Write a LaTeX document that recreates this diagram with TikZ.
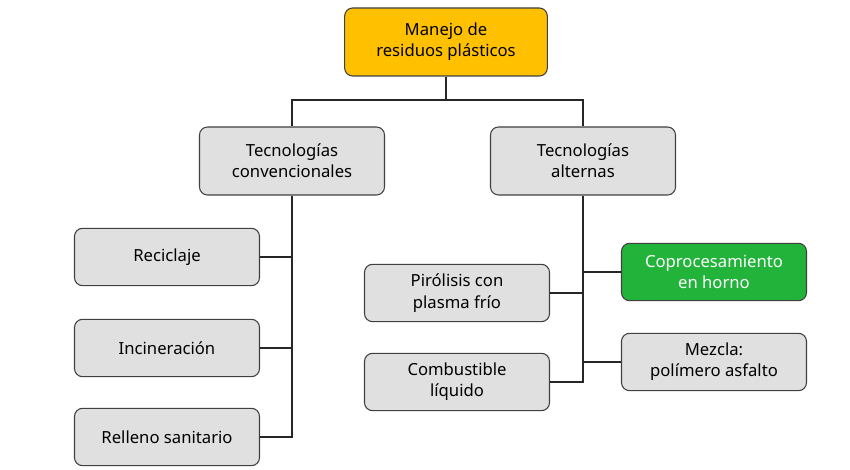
\documentclass[tikz,border=0pt]{standalone}
\usepackage{fontspec}
\setmainfont{Noto Sans}
\usetikzlibrary{positioning, calc}
\definecolor{topfill}{RGB}{255, 192, 0}
\definecolor{boxfill}{RGB}{224, 224, 224}
\definecolor{greenfill}{RGB}{34, 180, 58}
\begin{document}
\begin{tikzpicture}[x=0.75pt, y=-0.75pt,
    box/.style={rectangle, rounded corners=6pt, draw=black!75, fill=boxfill, thick,
                minimum width=138.75pt, minimum height=43pt, align=center,
                font=\fontsize{12.5}{16}\selectfont, inner sep=2pt},
    link/.style={draw=black!85, thick}]
    \useasboundingbox (0,0) rectangle (850,470);

    % Root and technologies
    \node[box, fill=topfill, minimum width=152pt, minimum height=51pt] (root) at (446,42) {Manejo de\\residuos plásticos};
    \node[box, minimum height=51pt] (conv) at (292,161) {Tecnologías\\convencionales};
    \node[box, minimum height=51pt] (alt) at (583,161) {Tecnologías\\alternas};

    % Conventional
    \node[box] (recic) at (167,257) {Reciclaje};
    \node[box] (incin) at (167,348) {Incineración};
    \node[box] (relleno) at (167,437) {Relleno sanitario};

    % Alternative
    \node[box] (piro) at (457,293) {Pirólisis con\\plasma frío};
    \node[box] (combu) at (457,382) {Combustible\\líquido};
    \node[box, fill=greenfill, text=white] (copro) at (714,272) {Coprocesamiento\\en horno};
    \node[box] (mezcla) at (714,362) {Mezcla:\\polímero asfalto};

    % Links
    \coordinate (j0) at (446,100);
    \draw[link] (root) -- (j0);
    \draw[link] (j0) -| (conv);
    \draw[link] (j0) -| (alt);
    \coordinate (jl) at (conv.south |- relleno);
    \draw[link] (conv) -- (jl) -- (relleno);
    \draw[link] (recic) -- (recic -| jl);
    \draw[link] (incin) -- (incin -| jl);
    \coordinate (jr) at (alt.south |- combu);
    \draw[link] (alt) -- (jr) -- (combu);
    \draw[link] (piro) -- (piro -| jr);
    \draw[link] (copro) -- (copro -| jr);
    \draw[link] (mezcla) -- (mezcla -| jr);
\end{tikzpicture}
\end{document}
